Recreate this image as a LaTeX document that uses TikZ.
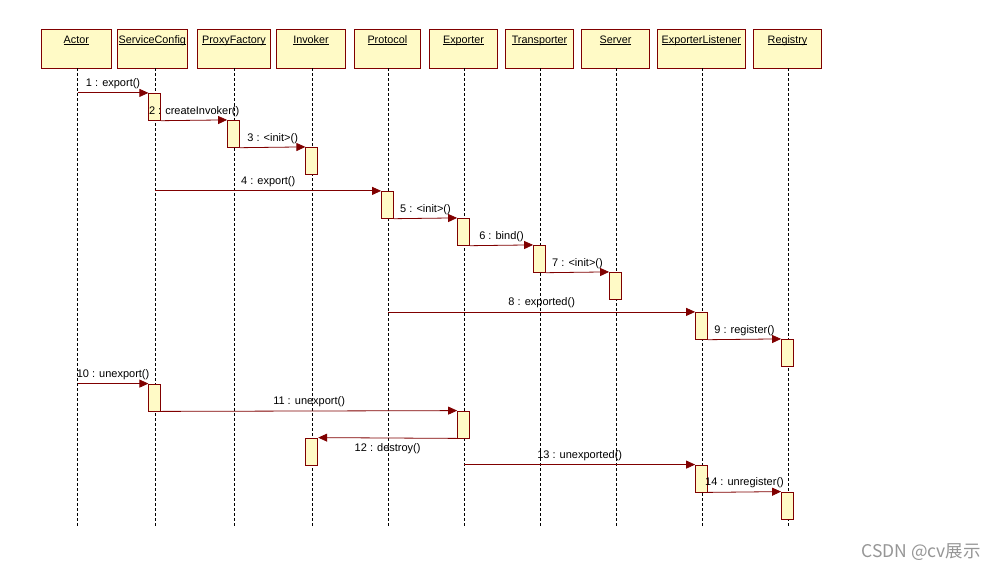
\documentclass[tikz,border=0pt]{standalone}
\usepackage{fontspec}
\setmainfont{Liberation Sans}
\newfontfamily\cjk{Noto Sans CJK SC}
\usetikzlibrary{arrows.meta}
\definecolor{boxfill}{RGB}{255,250,198}
\definecolor{boxline}{RGB}{128,0,0}
\definecolor{msgline}{RGB}{128,0,0}
\definecolor{wmgray}{RGB}{150,150,150}
\newcommand{\hname}[1]{\underline{\vphantom{A}\smash{#1}}}
\begin{document}
\begin{tikzpicture}[x=1pt,y=-1pt,
  header/.style={draw=boxline, fill=boxfill, line width=0.8pt, minimum height=39pt, inner sep=0pt},
  htext/.style={anchor=north, yshift=-7pt, inner sep=0pt, font=\fontsize{10.8}{12}\selectfont},
  lifeline/.style={draw=black, line width=0.7pt, dash pattern=on 3pt off 2pt},
  act/.style={draw=boxline, fill=boxfill, line width=0.8pt, minimum width=12pt, minimum height=27pt, inner sep=0pt},
  msg/.style={draw=msgline, line width=0.8pt, -{Triangle[length=9pt,width=8pt]}},
  lbl/.style={midway, inner sep=0pt, font=\fontsize{11}{12}\selectfont, text=black},
  above lbl/.style={lbl, yshift=9pt},
  below lbl/.style={lbl, yshift=-11pt}
]
\useasboundingbox (0,0) rectangle (995,572);
\fill[white] (0,0) rectangle (995,572);

% headers
\node[header, minimum width=70.7pt, label={[htext]north:\hname{Actor}}] (h1) at (76.35,48.5) {};
\node[header, minimum width=70pt, label={[htext]north:\hname{ServiceConfig}}] (h2) at (152.3,48.5) {};
\node[header, minimum width=73.4pt, label={[htext]north:\hname{ProxyFactory}}] (h3) at (234,48.5) {};
\node[header, minimum width=68.6pt, label={[htext]north:\hname{Invoker}}] (h4) at (311,48.5) {};
\node[header, minimum width=66.7pt, label={[htext]north:\hname{Protocol}}] (h5) at (387.35,48.5) {};
\node[header, minimum width=68.4pt, label={[htext]north:\hname{Exporter}}] (h6) at (463.5,48.5) {};
\node[header, minimum width=68.4pt, label={[htext]north:\hname{Transporter}}] (h7) at (539.5,48.5) {};
\node[header, minimum width=68.4pt, label={[htext]north:\hname{Server}}] (h8) at (615.5,48.5) {};
\node[header, minimum width=88pt, label={[htext]north:\hname{ExporterListener}}] (h9) at (701.3,48.5) {};
\node[header, minimum width=68.4pt, label={[htext]north:\hname{Registry}}] (h10) at (787.5,48.5) {};

% lifeline ends
\foreach \i/\x in {1/77.7,2/155.3,3/234,4/312.3,5/388.3,6/464.3,7/540.3,8/616.7,9/702.3,10/788.3}{
  \coordinate (t\i) at (\x,68.4);
  \coordinate (b\i) at (\x,527);
}
\foreach \i in {1,...,10}{ \draw[lifeline] (t\i) -- (b\i); }

% activations
\node[act] (a1) at (154.8,106.8) {};
\node[act] (a2) at (233.5,133.8) {};
\node[act] (a3) at (311.8,160.8) {};
\node[act] (a4) at (387.5,204.8) {};
\node[act] (a5) at (463.5,231.8) {};
\node[act] (a6) at (539.5,258.8) {};
\node[act] (a7) at (615.5,285.8) {};
\node[act] (a8) at (701.5,325.8) {};
\node[act] (a9) at (787.5,352.8) {};
\node[act] (a10) at (154.8,397.5) {};
\node[act] (a11) at (463.5,424.5) {};
\node[act] (a12) at (311.8,451.5) {};
\node[act] (a13) at (701.5,478.5) {};
\node[act] (a14) at (787.5,505.5) {};

% messages
\draw[msg] (t1 |- a1.north west) -- (a1.north west) node[above lbl] {1 : export()};
\draw[msg] (a1.south east) -- (a2.north west) node[above lbl] {2 : createInvoker()};
\draw[msg] (a2.south east) -- (a3.north west) node[above lbl] {3 : <init>()};
\draw[msg] (t2 |- a4.north west) -- (a4.north west) node[above lbl] {4 : export()};
\draw[msg] (a4.south east) -- (a5.north west) node[above lbl] {5 : <init>()};
\draw[msg] (a5.south east) -- (a6.north west) node[above lbl] {6 : bind()};
\draw[msg] (a6.south east) -- (a7.north west) node[above lbl] {7 : <init>()};
\draw[msg] (t5 |- a8.north west) -- (a8.north west) node[above lbl] {8 : exported()};
\draw[msg] (a8.south east) -- (a9.north west) node[above lbl] {9 : register()};
\draw[msg] (t1 |- a10.north west) -- (a10.north west) node[above lbl] {10 : unexport()};
\draw[msg] (a10.south east) -- (a11.north west) node[above lbl] {11 : unexport()};
\draw[msg] (a11.south west) -- (a12.north east) node[below lbl] {12 : destroy()};
\draw[msg] (t6 |- a13.north west) -- (a13.north west) node[above lbl] {13 : unexported()};
\draw[msg] (a13.south east) -- (a14.north west) node[above lbl] {14 : unregister()};

% watermark
\node[anchor=east, inner sep=0pt, text=wmgray, font=\cjk\fontsize{17.5}{20}\selectfont] (wm) at (981,552) {CSDN @cv展示};
\end{tikzpicture}
\end{document}
